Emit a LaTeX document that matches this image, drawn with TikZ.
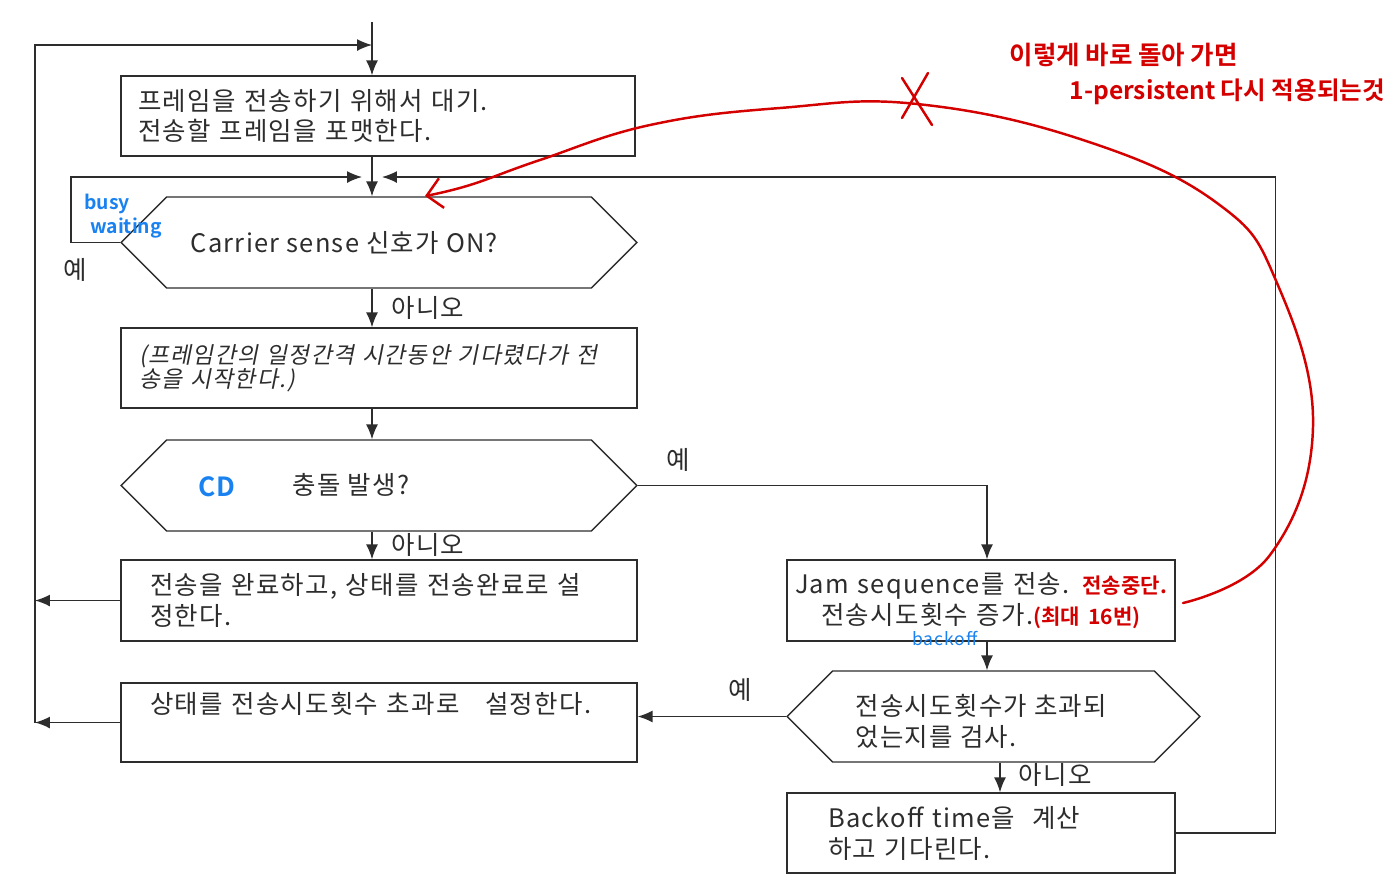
\documentclass[tikz,border=0pt]{standalone}
\usepackage{fontspec}
\setmainfont{Noto Sans CJK KR}[LetterSpace=5]
\newfontfamily\slantkr{Noto Sans CJK KR}[FakeSlant=0.2, LetterSpace=6]
\newfontfamily\handkr{Noto Sans CJK KR Bold}
\usetikzlibrary{arrows.meta,shapes.symbols}
\definecolor{ink}{RGB}{45,45,45}
\definecolor{penred}{RGB}{212,0,0}
\definecolor{penblue}{RGB}{25,130,240}

\begin{document}
\begin{tikzpicture}[x=0.02cm, y=-0.02cm, line width=0.8pt, color=ink,
    box/.style={draw, rectangle, minimum height=1.6cm, align=left, inner sep=0pt,
      font=\fontsize{14.5}{17.6}\selectfont},
    hexa/.style={draw, signal, signal to=west and east, signal pointer angle=90,
      minimum height=1.82cm, inner sep=0pt},
    lbl/.style={font=\fontsize{14.5}{17.6}\selectfont},
    arr/.style={-{Latex[length=3mm,width=2.4mm]}},
    pen/.style={penred, line width=1.4pt, line cap=round},
    handred/.style={penred, font=\handkr\fontsize{14}{16}\selectfont},
    handblue/.style={penblue, font=\handkr\fontsize{11}{13}\selectfont},
  ]
  \useasboundingbox (0,0) rectangle (1400,887);

  % 1. Columns the connectors run along
  \coordinate (spine) at (372,0);
  \coordinate (rail) at (35,0);
  \coordinate (jamcol) at (987,0);
  \coordinate (backcol) at (1000,0);
  \coordinate (entry) at (372,22);
  \coordinate (topjoin) at (372,45);
  \coordinate (merge) at (372,177);

  % 2. Boxes
  \node[box, minimum width=10.28cm, text width=9.6cm] (frame) at (378,116)
    {프레임을 전송하기 위해서 대기.\\전송할 프레임을 포맷한다.};
  \node[box, minimum width=10.32cm, text width=9.6cm,
    font=\slantkr\fontsize{13}{13.5}\selectfont] (ifs) at (379,368)
    {(프레임간의 일정간격 시간동안 기다렸다가 전\\송을 시작한다.)};
  \node[box, minimum width=10.32cm, minimum height=1.62cm, text width=9.16cm] (done) at (379,600.5)
    {전송을 완료하고, 상태를 전송완료로 설\\정한다.};
  \node[box, minimum width=10.32cm, minimum height=1.58cm, text width=9.16cm] (over) at (379,722.5)
    {상태를 전송시도횟수 초과로~~~설정한다.\\ \strut};
  \node[box, minimum width=7.76cm, minimum height=1.62cm, text width=7.6cm, align=center] (jam) at (981,600.5)
    {Jam sequence를 전송. \textcolor{penred}{\handkr\fontsize{12}{14}\selectfont 전송중단.}\\
     전송시도횟수 증가.\textcolor{penred}{\handkr\fontsize{12}{14}\selectfont (최대 16번)}};
  \node[box, minimum width=7.76cm, text width=6.12cm] (backoff) at (981,833)
    {Backoff time을~~계산\\하고 기다린다.};

  % 3. Decisions
  \node[hexa, minimum width=10.32cm] (carrier) at (379,242.5) {};
  \node[hexa, minimum width=10.32cm] (collide) at (379,485.5) {};
  \node[hexa, minimum width=8.26cm] (count) at (993.5,716.5) {};
  \node[lbl, anchor=west] (carriertxt) at (184,243) {Carrier sense 신호가 ON?};
  \node[lbl, anchor=west] (collidetxt) at (286,485) {충돌 발생?};
  \node[lbl, anchor=west, align=left] (counttxt) at (849,721) {전송시도횟수가 초과되\\었는지를 검사.};

  % 4. Connectors
  \draw[arr] (entry) -- (frame.north -| spine);
  \draw[arr] (rail |- over.west) -- (rail |- topjoin) -- (topjoin);
  \draw[arr] (frame.south -| spine) -- (carrier.north -| spine);
  \draw[arr, shorten >=0.2cm] (carrier.west) -- ++(-49,0) |- (merge);
  \draw[arr, shorten >=0.2cm] (backoff.east) -- ++(100,0) |- (merge);
  \draw[arr] (carrier.south -| spine) -- (ifs.north -| spine);
  \draw[arr] (ifs.south -| spine) -- (collide.north -| spine);
  \draw[arr] (collide.south -| spine) -- (done.north -| spine);
  \draw[arr] (collide.east) -| (jam.north -| jamcol);
  \draw[arr] (jam.south -| jamcol) -- (count.north -| jamcol);
  \draw[arr] (count.south -| backcol) -- (backoff.north -| backcol);
  \draw[arr] (count.west) -- (count.west -| over.east);
  \draw[arr] (done.west) -- (done.west -| rail);
  \draw[arr] (over.west) -- (over.west -| rail);

  % 5. Yes / no labels
  \node[lbl] (yes1) at (75,270) {예};
  \node[lbl] (no1) at (428,308) {아니오};
  \node[lbl] (yes2) at (678,460) {예};
  \node[lbl] (no2) at (428,545) {아니오};
  \node[lbl] (yes3) at (740,690) {예};
  \node[lbl] (no3) at (1055,775) {아니오};

  % 6. Pen notes
  \node[handblue] (busy) at (107,204) {busy};
  \node[handblue] (waiting) at (126,228) {waiting};
  \node[handblue, font=\handkr\fontsize{15}{17}\selectfont] (cd) at (217,487) {CD};
  \node[handblue, font=\fontsize{10}{11}\selectfont] (bo) at (945,638) {backoff};
  \node[handred, anchor=west, font=\handkr\fontsize{14.5}{16}\selectfont] (note1) at (1003,55) {이렇게 바로 돌아 가면};
  \node[handred, anchor=west] (note2) at (1063,92) {1-persistent 다시 적용되는것};
  \draw[pen, -{Straight Barb[length=3mm]}] plot[smooth, tension=0.7] coordinates
    {(1183,603) (1270,555) (1313,427) (1277,283) (1217,203) (1083,140)
     (917,104) (780,108) (650,125) (540,160) (470,185) (425,196)};
  \draw[pen] (902,78) -- (932,125);
  \draw[pen] (928,73) -- (902,118);
\end{tikzpicture}
\end{document}
